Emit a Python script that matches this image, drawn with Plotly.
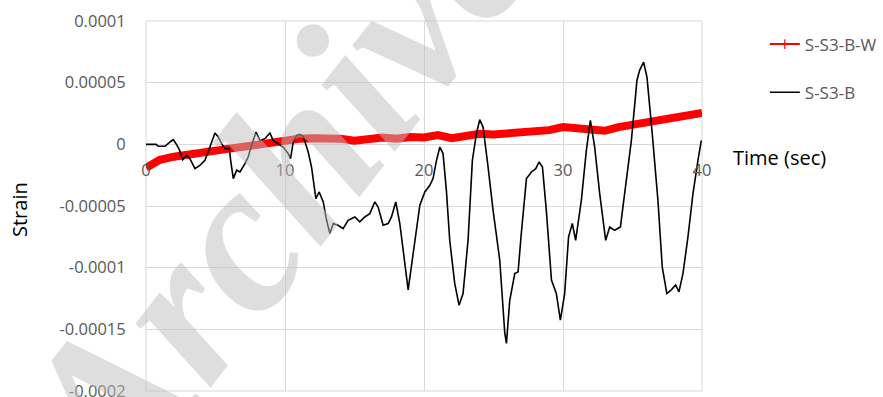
import numpy as np
import plotly.graph_objects as go

# Time axis (s) and strain readings (micro-strain) for gauge S-S3-B
t_b = [0, 0.72, 0.89, 1.37, 1.73, 1.96, 2.16, 2.4, 2.64, 2.92, 3.16, 3.52, 3.88, 4.24, 4.6,
       4.96, 5.2, 5.44, 5.68, 5.99, 6.09, 6.28, 6.52, 6.76, 7.12, 7.35, 7.6, 7.91, 8.2, 8.55,
       8.91, 9.15, 9.51, 9.87, 10.23, 10.4, 10.59, 10.83, 11.07, 11.31, 11.67, 11.91, 12.22,
       12.46, 12.75, 12.99, 13.23, 13.47, 13.82, 14.18, 14.54, 15.02, 15.38, 15.74, 16.1,
       16.46, 16.7, 17.06, 17.42, 17.66, 17.97, 18.26, 18.86, 19.22, 19.7, 20.06, 20.42,
       20.65, 20.9, 21.14, 21.37, 21.61, 21.85, 22.21, 22.52, 22.81, 23.17, 23.48, 23.77,
       24.01, 24.25, 24.61, 24.97, 25.45, 25.81, 25.93, 26.17, 26.53, 26.77, 27.0, 27.37,
       27.73, 28.04, 28.28, 28.52, 28.8, 29.17, 29.52, 29.81, 30.12, 30.4, 30.67, 30.91,
       31.32, 31.68, 31.97, 32.28, 32.64, 33.07, 33.36, 33.72, 34.13, 34.43, 34.92, 35.32,
       35.51, 35.8, 36.04, 36.42, 36.83, 37.14, 37.47, 37.79, 38.1, 38.34, 38.63, 38.99,
       39.35, 39.71, 39.95]
ue_b = [0, 0, -1.6, -1.6, 1.9, 3.8, 0.5, -4.3, -12.4, -8.9, -11.6, -19.7, -17, -13, -2.2,
        9.2, 5.9, 0.5, -3.5, -3.5, -13, -27.8, -21, -22.4, -15.6, -10.3, -0.8, 10, 3.2, 4.6,
        9.2, 3.2, 0.5, -2.2, -7.5, -11.6, 1.9, 7.3, 8.1, 6.5, -6.2, -18.4, -44,
        -38.6, -46.7, -61.6, -72.3, -64.2, -65.6, -68.3, -61.6, -58.9, -62.9, -58.9, -56.2,
        -46.7, -50.8, -65.6, -64.2, -58.9, -46.7, -64.2, -118, -88.5, -49.4, -38.6, -33.2,
        -27.8, -13, -2.2, -7.5, -37.3, -77.8, -112.8, -130.4, -121, -77.8, -13, 8.7,
        20, 14, -18.4, -53.5, -94, -153, -161.4, -126.4, -104.8, -103.4, -72.3, -27.8,
        -22.4, -19.7, -14.3, -18.4, -53.5, -110, -121, -142.6, -121, -75, -64.2, -77.8,
        -45.4, -4.9, 19.4, -2.2, -40, -77.8, -67, -69.7, -67, -40, 3.2, 51.8,
        60, 66.7, 54.5, 8.7, -45.4, -99.4, -121, -118, -114, -119.6, -104.8, -75,
        -40, -13, 3.2]

# Gauge S-S3-B-W
t_w = [0, 0.5, 1, 2, 3, 4, 5, 6, 7, 8, 9, 10, 11, 12, 13, 14, 15, 16, 17, 18, 19, 20,
       21, 22, 23, 24, 25, 26, 27, 28, 29, 30, 31, 32, 33, 34, 35, 36, 37, 38, 39, 40]
ue_w = [-19, -15, -12.5, -10, -8, -6, -5, -3.5, -2, 0, 2, 3.5, 4.5, 5, 5, 4.5, 3, 4.5,
        5.5, 4.5, 6, 5.5, 7.5, 5, 7, 8.5, 8, 9, 9.5, 10, 11.5, 14, 13.5, 12.5, 11, 14,
        16, 17.5, 21, 23, 24.5, 25.5]

x_ticks = [0, 10, 20, 30, 40]
y_ticks = [0.0001, 0.00005, 0, -0.00005, -0.0001, -0.00015, -0.0002]
y_tick_text = ["0.0001", "0.00005", "0", "-0.00005", "-0.0001", "-0.00015", "-0.0002"]

series_w = "S-S3-B-W"
series_b = "S-S3-B"

RED = "#ff0000"
GRID = "#d9d9d9"
TXT = "#595959"
FONT = "Open Sans"

strain_b = np.array(ue_b) * 1e-6
strain_w = np.array(ue_w) * 1e-6

fig = go.Figure()
fig.add_trace(go.Scatter(x=t_w, y=strain_w, mode="lines", showlegend=False,
                         line=dict(color=RED, width=8), legendgroup="w"))
fig.add_trace(go.Scatter(x=[None], y=[None], mode="lines+markers", name=series_w,
                         legendgroup="w",
                         line=dict(color=RED, width=2),
                         marker=dict(symbol="line-ns", size=7,
                                     line=dict(color=RED, width=1.2))))
fig.add_trace(go.Scatter(x=t_b, y=strain_b, mode="lines", name=series_b,
                         legendgroup="b", line=dict(color="black", width=1.6)))

fig.update_layout(
    width=883, height=397,
    margin=dict(l=146, r=181, t=21, b=6, autoexpand=False),
    paper_bgcolor="white", plot_bgcolor="white",
    font=dict(family=FONT, color=TXT),
    legend=dict(x=1.113, y=0.985, xanchor="left", yanchor="top",
                font=dict(size=17, color=TXT, family=FONT),
                tracegroupgap=23, bgcolor="rgba(0,0,0,0)"),
    xaxis=dict(range=[0, 40], tickvals=x_ticks, anchor="free", position=2 / 3,
               showgrid=True, gridcolor=GRID, gridwidth=1, zeroline=False,
               showline=False, ticks="outside", ticklen=11, automargin=False,
               tickcolor="rgba(0,0,0,0)",
               tickfont=dict(size=16.5, color=TXT, family=FONT)),
    yaxis=dict(range=[-0.0002, 0.0001], tickvals=y_ticks, ticktext=y_tick_text,
               showgrid=True, gridcolor=GRID, gridwidth=1, zeroline=False,
               showline=False, ticks="outside", ticklen=16, automargin=False,
               tickcolor="rgba(0,0,0,0)", ticklabeloverflow="allow",
               tickfont=dict(size=16.5, color=TXT, family=FONT)),
    shapes=[dict(type="rect", xref="paper", yref="paper", x0=0, x1=1, y0=0, y1=1,
                 line=dict(color=GRID, width=1), layer="below")],
    annotations=[
        dict(text="Time (sec)", xref="paper", yref="paper", x=(779 - 146) / 556,
             y=1 - (157 - 21) / 370, xanchor="center", yanchor="middle",
             showarrow=False, font=dict(size=20, color="black", family=FONT)),
        dict(text="Strain", xref="paper", yref="paper", x=(19 - 146) / 556,
             y=1 - (210 - 21) / 370, xanchor="center", yanchor="middle",
             textangle=-90, showarrow=False,
             font=dict(size=20, color="black", family=FONT)),
        dict(text="Archive", xref="paper", yref="paper", x=(272 - 146) / 556,
             y=1 - (192 - 21) / 370, xanchor="center", yanchor="middle",
             textangle=-52, showarrow=False,
             font=dict(size=215, color="rgba(190,190,190,0.5)",
                       family="Liberation Serif", weight="bold", style="italic")),
    ],
)

fig.write_html("out.html")
